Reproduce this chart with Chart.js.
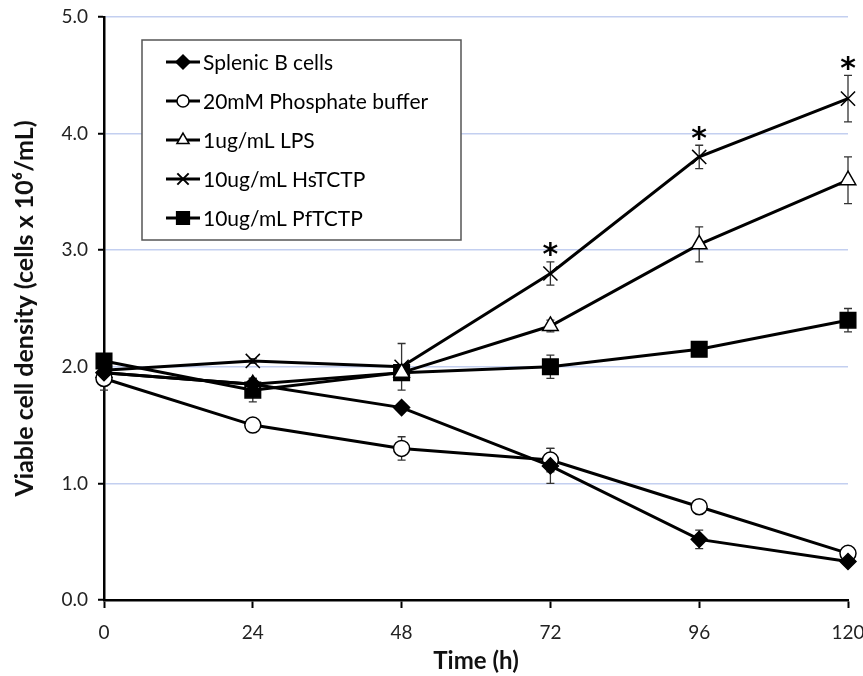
<!DOCTYPE html>
<html>
<head>
<meta charset="utf-8">
<script src="https://cdn.jsdelivr.net/npm/chart.js@4/dist/chart.umd.min.js"></script>
<style>
  html, body { margin: 0; padding: 0; background: #fff; }
  #wrap { width: 863px; height: 676px; }
</style>
</head>
<body>
<div id="wrap"><canvas id="growthChart" width="863" height="676"></canvas></div>
<script>
// time points (h)
const hours = [0, 24, 48, 72, 96, 120];
const xTicks = [0, 24, 48, 72, 96, 120];
const yTicks = [0, 1, 2, 3, 4, 5];

const seriesNames = ['Splenic B cells', '20mM Phosphate buffer', '1ug/mL LPS', '10ug/mL HsTCTP', '10ug/mL PfTCTP'];

// viable cell density (x10^6/mL) and error bars
const splenic = [1.95, 1.85, 1.65, 1.15, 0.52, 0.33];
const splenicErr = [0.05, 0.03, 0.03, 0.15, 0.08, 0.03];
const phosphate = [1.9, 1.5, 1.3, 1.2, 0.8, 0.4];
const phosphateErr = [0.1, 0.02, 0.1, 0.1, 0.03, 0.03];
const lps = [1.95, 1.85, 1.95, 2.35, 3.05, 3.6];
const lpsErr = [0.05, 0.05, 0.05, 0.05, 0.15, 0.2];
const hstctp = [1.97, 2.05, 2.0, 2.8, 3.8, 4.3];
const hstctpErr = [0.03, 0.02, 0.2, 0.1, 0.1, 0.2];
const pftctp = [2.05, 1.8, 1.95, 2.0, 2.15, 2.4];
const pftctpErr = [0.05, 0.1, 0.05, 0.1, 0.03, 0.1];

// significance marks (shown over HsTCTP)
const significant = [false, false, false, true, true, true];

const FONT = 'Lato, "Open Sans", sans-serif';

const styles = [
  { pointStyle: 'rectRot', radius: 8, fill: '#000', legendRadius: 7 },
  { pointStyle: 'circle', radius: 8, fill: '#fff', legendRadius: 6 },
  { pointStyle: 'triangle', radius: 9, fill: '#fff', legendRadius: 7 },
  { pointStyle: 'crossRot', radius: 10, fill: '#000', legendRadius: 8 },
  { pointStyle: 'rect', radius: 11, fill: '#000', legendRadius: 9 },
];
const values = [splenic, phosphate, lps, hstctp, pftctp];
const errors = [splenicErr, phosphateErr, lpsErr, hstctpErr, pftctpErr];

const datasets = seriesNames.map((name, i) => ({
  label: name,
  data: hours.map((h, j) => ({ x: h, y: values[i][j] })),
  errors: errors[i],
  borderColor: '#000',
  borderWidth: 3,
  pointStyle: styles[i].pointStyle,
  pointRadius: styles[i].radius,
  pointBackgroundColor: styles[i].fill,
  pointBorderColor: '#000',
  pointBorderWidth: 1.5,
  legendRadius: styles[i].legendRadius,
  tension: 0,
  clip: false,
}));

function drawMarker(ctx, style, radius, x, y, fill) {
  ctx.save();
  ctx.fillStyle = fill;
  ctx.strokeStyle = '#000';
  ctx.lineWidth = style === 'crossRot' ? 2 : 1.5;
  Chart.helpers.drawPoint(ctx, { pointStyle: style, radius: radius, rotation: 0, borderWidth: ctx.lineWidth }, x, y);
  ctx.restore();
}

const errorBars = {
  id: 'errorBars',
  beforeDatasetsDraw(chart) {
    const { ctx, scales: { x, y } } = chart;
    ctx.save();
    ctx.strokeStyle = '#333';
    ctx.lineWidth = 1.3;
    chart.data.datasets.forEach(ds => {
      ds.data.forEach((p, j) => {
        const e = ds.errors[j];
        if (!e) return;
        const px = x.getPixelForValue(p.x);
        const top = y.getPixelForValue(p.y + e);
        const bot = y.getPixelForValue(p.y - e);
        ctx.beginPath();
        ctx.moveTo(px, top); ctx.lineTo(px, bot);
        ctx.moveTo(px - 4, top); ctx.lineTo(px + 4, top);
        ctx.moveTo(px - 4, bot); ctx.lineTo(px + 4, bot);
        ctx.stroke();
      });
    });
    ctx.restore();
  },
  afterDatasetsDraw(chart) {
    const { ctx, scales: { x, y } } = chart;
    const ds = chart.data.datasets[3];
    ctx.save();
    ctx.fillStyle = '#000';
    ctx.font = 'bold 30px "DejaVu Sans", sans-serif';
    ctx.textAlign = 'center';
    ctx.textBaseline = 'alphabetic';
    const m = ctx.measureText('*');
    const mid = (m.actualBoundingBoxAscent - m.actualBoundingBoxDescent) / 2;
    ds.data.forEach((p, j) => {
      if (!significant[j]) return;
      const px = x.getPixelForValue(p.x);
      const top = y.getPixelForValue(p.y + ds.errors[j]);
      ctx.fillText('*', px, top - 12 + mid);
    });
    ctx.restore();
  },
};

const boxLegend = {
  id: 'boxLegend',
  afterDraw(chart) {
    const { ctx, chartArea } = chart;
    const left = chartArea.left + 38, top = chartArea.top + 23;
    const w = 319, h = 200, rowH = 39;
    ctx.save();
    ctx.fillStyle = '#fff';
    ctx.fillRect(left, top, w, h);
    ctx.strokeStyle = '#555';
    ctx.lineWidth = 1.5;
    ctx.strokeRect(left, top, w, h);
    ctx.font = '21px ' + FONT;
    ctx.textBaseline = 'middle';
    ctx.textAlign = 'left';
    chart.data.datasets.forEach((ds, i) => {
      const cy = top + 22 + i * rowH;
      ctx.strokeStyle = '#000';
      ctx.lineWidth = 3;
      ctx.beginPath();
      ctx.moveTo(left + 24, cy); ctx.lineTo(left + 58, cy);
      ctx.stroke();
      drawMarker(ctx, ds.pointStyle, ds.legendRadius, left + 41, cy, ds.pointBackgroundColor);
      ctx.fillStyle = '#000';
      ctx.fillText(ds.label, left + 61, cy + 1);
    });
    ctx.restore();
  },
};

new Chart(document.getElementById('growthChart'), {
  type: 'line',
  data: { datasets },
  plugins: [errorBars, boxLegend],
  options: {
    responsive: false,
    animation: false,
    layout: { padding: { top: 17, right: 15, left: 0, bottom: 0 } },
    plugins: { legend: { display: false }, tooltip: { enabled: false } },
    scales: {
      x: {
        type: 'linear',
        min: 0,
        max: 120,
        afterBuildTicks: scale => { scale.ticks = xTicks.map(v => ({ value: v })); },
        afterFit: scale => { scale.height = 76; scale.paddingRight = 0; scale.paddingLeft = 0; },
        ticks: { color: '#222', font: { family: FONT, size: 19 }, padding: 13 },
        grid: { drawOnChartArea: false, drawTicks: true, tickLength: 8, tickColor: '#000', tickWidth: 2 },
        border: { color: '#000', width: 2.5 },
        title: {
          display: true,
          text: 'Time (h)',
          color: '#111',
          font: { family: FONT, size: 24, weight: 'bold' },
          padding: { top: 0, bottom: 0 },
        },
      },
      y: {
        min: 0,
        max: 5,
        afterBuildTicks: scale => { scale.ticks = yTicks.map(v => ({ value: v })); },
        afterFit: scale => { scale.width = 104; scale.paddingTop = 0; scale.paddingBottom = 0; },
        ticks: { color: '#222', font: { family: FONT, size: 19 }, padding: 10, callback: v => v.toFixed(1) },
        grid: {
          color: ctx => ctx.tick && ctx.tick.value === 0 ? 'rgba(0,0,0,0)' : '#c3cff0',
          lineWidth: 1.5,
          drawTicks: true,
          tickLength: 6,
          tickColor: '#000',
          tickWidth: 2,
        },
        border: { color: '#000', width: 2.5 },
        title: {
          display: true,
          text: 'Viable cell density (cells x 10\u2076/mL)',
          color: '#111',
          font: { family: FONT, size: 25, weight: 'bold' },
          padding: { top: 10, bottom: 10 },
        },
      },
    },
  },
});
</script>
</body>
</html>
